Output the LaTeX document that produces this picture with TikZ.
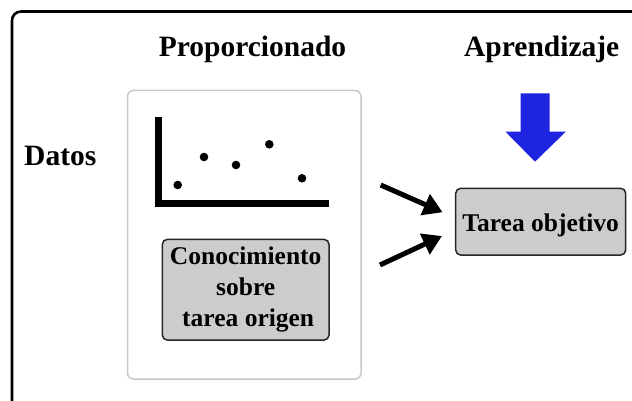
\documentclass[tikz,border=0pt]{standalone}
\usepackage{fontspec}
\setmainfont{Liberation Serif}
\usetikzlibrary{arrows.meta}
\definecolor{boxgray}{RGB}{204,204,204}
\definecolor{panelline}{RGB}{200,200,200}
\definecolor{arrowblue}{RGB}{30,36,224}
\begin{document}
\begin{tikzpicture}[x=1pt,y=-1pt,
  title/.style={font=\fontsize{29.5}{35}\selectfont\bfseries, inner sep=0pt, anchor=base},
  graybox/.style={draw=black!85, line width=1.5pt, fill=boxgray, rounded corners=5pt,
     inner sep=0pt, font=\fontsize{25.5}{31}\selectfont\bfseries, align=center},
  panel/.style={draw=panelline, line width=1.5pt, rounded corners=6pt, fill=white},
  fatarrow/.style={line width=5pt, -{Triangle[length=19pt,width=22pt]}},
  bigarrow/.style={fill=arrowblue, draw=none}]
\useasboundingbox (0,0) rectangle (632,401);
\begin{scope}
\clip (0,0) rectangle (632,401);
\draw[line width=2.6pt, rounded corners=9pt] (12,11.5) rectangle (720,480);
\end{scope}
% titles
\node[title] (prop) at (252.5,57) {Proporcionado};
\node[title] (apr) at (541.7,57) {Aprendizaje};
\node[title] (datos) at (60.3,165) {Datos};
% panel
\draw[panel] (127.5,90.5) rectangle (361,379);
% axes
\draw[line width=7pt, miter limit=10] (158.9,117) -- (158.9,203.3) -- (329,203.3);
\foreach \px/\py in {177.7/185, 204/157, 236/165, 269.3/144.3, 302/178.3}
  \fill (\px,\py) circle (4.3pt);
% boxes
\node[graybox, minimum width=166.7pt, minimum height=100.7pt] (src) at (245.7,289.7)
  {Conocimiento\\sobre\\\hspace*{5pt}tarea origen};
\node[graybox, minimum width=170pt, minimum height=66.7pt, text height=20pt, text depth=0pt] (tgt) at (540.7,221.7)
  {Tarea objetivo};
% blue learning arrow
\fill[bigarrow] (520.5,93.3) -- (549.5,93.3) -- (549.5,131.7) -- (565.8,131.7)
  -- (535,161.7) -- (505.5,131.7) -- (520.5,131.7) -- cycle;
% arrows into target
\coordinate (a1) at (380.7,185);
\coordinate (a2) at (380,265);
\draw[fatarrow, shorten >=13.5pt] (a1) -- ([yshift=4pt]tgt.west);
\draw[fatarrow, shorten >=14.3pt] (a2) -- ([yshift=-8.3pt]tgt.west);
\end{tikzpicture}
\end{document}
